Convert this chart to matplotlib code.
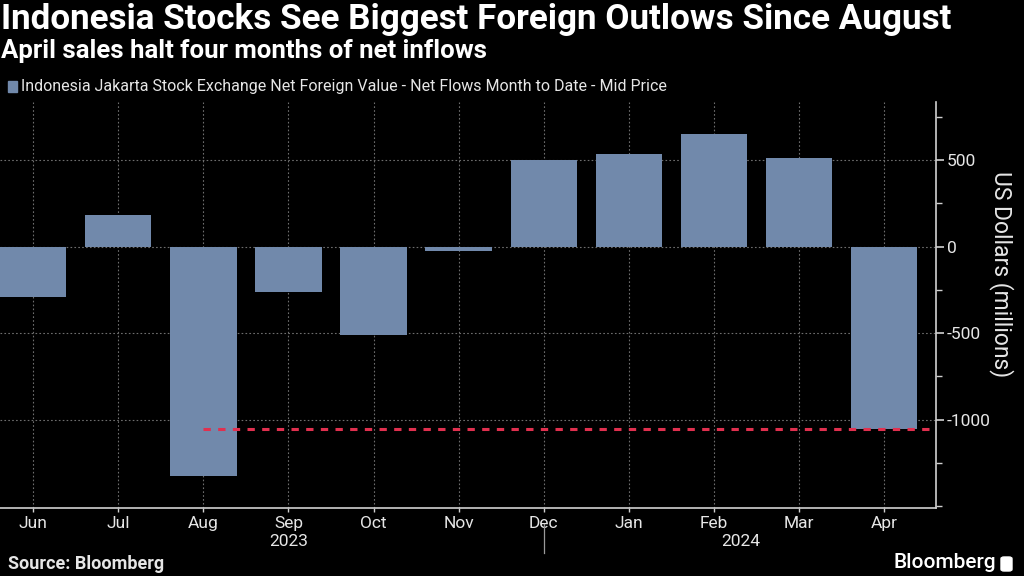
import matplotlib
matplotlib.use("Agg")
import matplotlib.pyplot as plt
from matplotlib.ticker import FixedLocator
from matplotlib.patches import FancyBboxPatch

months = ["Jun", "Jul", "Aug", "Sep", "Oct", "Nov", "Dec", "Jan", "Feb", "Mar", "Apr"]
net_flows = [-290, 183, -1325, -265, -510, -28, 500, 536, 648, 510, -1055]
years = ["2023", "2024"]
major_ticks = [500, 0, -500, -1000]
minor_ticks = [750, 250, -250, -750, -1250, -1500]

plt.rcParams['font.family'] = ['Roboto', 'DejaVu Sans']

BG = "#000000"
BAR = "#7189AB"
TXT = "#E6E6E6"
GRID = "#6E6E6E"
RED = "#E0304F"

fig = plt.figure(figsize=(10.24, 5.76), dpi=100, facecolor=BG)
ax = fig.add_axes([0.0, 1 - 508 / 576, 936 / 1024, (508 - 102) / 576], facecolor=BG)

x = list(range(len(months)))
ax.bar(x, net_flows, width=0.78, color=BAR, zorder=3)

# reference line at the latest (April) value, from August onward
ax.plot([2, len(months) - 0.39], [net_flows[-1], net_flows[-1]], color=RED, lw=2.2,
        dashes=(2.4, 2.4), zorder=4, dash_capstyle='butt')

ax.set_xlim(-0.39, len(months) - 0.39)
ax.set_ylim(-1510, 835)

# gridlines
for v in major_ticks:
    ax.axhline(v, color=GRID, lw=0.8, ls=(0, (1.5, 2)), zorder=1)
for xi in x:
    ax.axvline(xi, color=GRID, lw=0.8, ls=(0, (1.5, 2)), zorder=1)

# spines
for s in ["left", "top"]:
    ax.spines[s].set_visible(False)
ax.spines["right"].set_color("#D0D0D0")
ax.spines["right"].set_linewidth(1.2)
ax.spines["bottom"].set_color("#D0D0D0")
ax.spines["bottom"].set_linewidth(1.2)

ax.yaxis.tick_right()
ax.yaxis.set_major_locator(FixedLocator(major_ticks))
ax.yaxis.set_minor_locator(FixedLocator(minor_ticks))
ax.set_yticklabels([f"{v}" for v in major_ticks])
ax.tick_params(axis='y', which='major', colors="#D0D0D0", labelcolor=TXT, length=6,
               width=1.2, labelsize=12.5, pad=2)
ax.tick_params(axis='y', which='minor', colors="#D0D0D0", length=4, width=1)

ax.set_xticks(x)
ax.set_xticklabels(months)
ax.tick_params(axis='x', colors="#D0D0D0", labelcolor=TXT, length=3, width=1,
               labelsize=12.5, pad=3)

# year labels and separator
ax.text(3, -0.082, years[0], transform=ax.get_xaxis_transform(), ha='center', va='center',
        color=TXT, fontsize=12.5)
ax.text(8.31, -0.082, years[1], transform=ax.get_xaxis_transform(), ha='center', va='center',
        color=TXT, fontsize=12.5)
ax.plot([6, 6], [-0.04, -0.11], transform=ax.get_xaxis_transform(), color="#9A9A9A",
        lw=0.9, clip_on=False)

# y label
fig.text(1001 / 1024, 1 - 274 / 576, "US Dollars (millions)", rotation=270, ha='center',
         va='center', color=TXT, fontsize=16.5)

# titles
fig.text(1 / 1024, 1 - 20 / 576, "Indonesia Stocks See Biggest Foreign Outlows Since August",
         ha='left', va='center', color="white", fontsize=25.2, fontweight='bold')
fig.text(1 / 1024, 1 - 51 / 576, "April sales halt four months of net inflows",
         ha='left', va='center', color="white", fontsize=18.5, fontweight='bold')

# legend
fig.patches.append(plt.Rectangle((8 / 1024, 1 - 92 / 576), 9 / 1024, 11 / 576,
                                 transform=fig.transFigure, color=BAR))
fig.text(21 / 1024, 1 - 86 / 576,
         "Indonesia Jakarta Stock Exchange Net Foreign Value - Net Flows Month to Date - Mid Price",
         ha='left', va='center', color=TXT, fontsize=11.5)

# footer
fig.text(8 / 1024, 1 - 564 / 576, "Source: Bloomberg", ha='left', va='center',
         color=TXT, fontsize=13, fontweight='bold')
fig.text(996 / 1024, 1 - 563 / 576, "Bloomberg", ha='right', va='center',
         color="white", fontsize=15, fontweight='medium')
fig.patches.append(FancyBboxPatch((1001 / 1024, 1 - 571 / 576), 11 / 1024, 14 / 576,
                                  boxstyle="round,pad=0,rounding_size=0.003",
                                  transform=fig.transFigure, color="white"))

fig.savefig("out.png", dpi=100, facecolor=BG)
